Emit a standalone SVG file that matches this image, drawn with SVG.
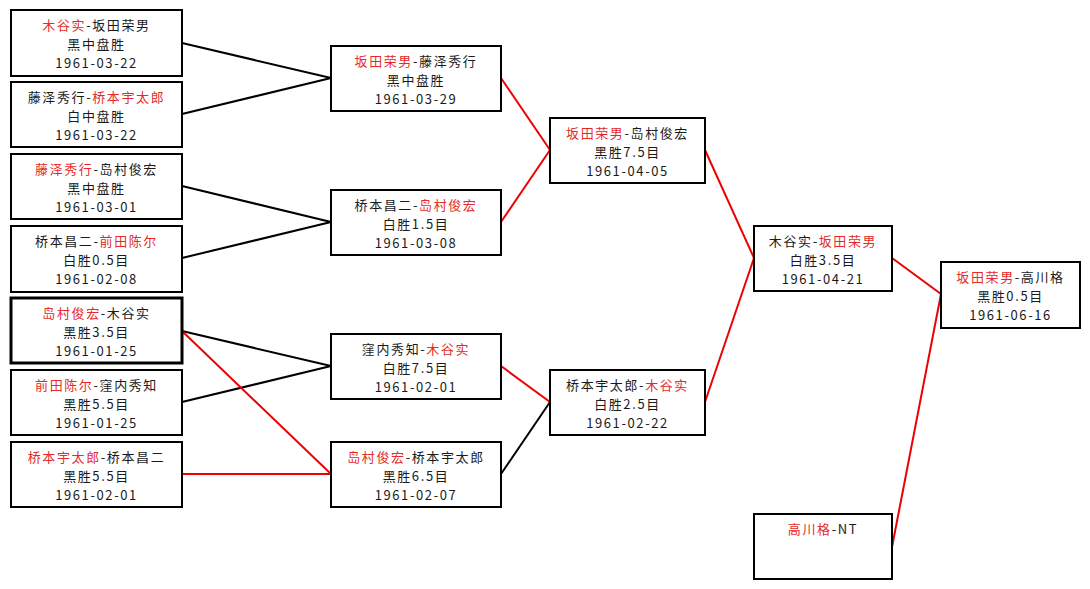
<svg xmlns="http://www.w3.org/2000/svg" width="1090" height="589" viewBox="0 0 1090 589">
<style>
.node rect{fill:#fff;stroke:#000;stroke-width:2}
.node.thick rect{stroke-width:3}
text{font-family:"Noto Sans CJK SC","Noto Sans CJK JP",sans-serif;font-size:13px;letter-spacing:1.6px;text-anchor:middle;fill:#1a1a1a}
.r{fill:#e52a2a}
.conn line{stroke-width:2;fill:none}
.conn .k{stroke:#000}
.conn .rd{stroke:#ee0000}
</style>
<rect width="1090" height="589" fill="#fff"/>
<g id="connectors" class="conn">
<line class="k" x1="182" y1="43" x2="331" y2="78"/>
<line class="k" x1="182" y1="114" x2="331" y2="78"/>
<line class="k" x1="182" y1="186" x2="331" y2="222"/>
<line class="k" x1="182" y1="258" x2="331" y2="222"/>
<line class="k" x1="182" y1="331" x2="331" y2="366"/>
<line class="k" x1="182" y1="402" x2="331" y2="366"/>
<line class="rd" x1="182" y1="331" x2="331" y2="474"/>
<line class="rd" x1="182" y1="474" x2="331" y2="474"/>
<line class="rd" x1="501" y1="78" x2="550" y2="150"/>
<line class="rd" x1="501" y1="222" x2="550" y2="150"/>
<line class="rd" x1="501" y1="366" x2="550" y2="402"/>
<line class="k" x1="501" y1="474" x2="550" y2="402"/>
<line class="rd" x1="705" y1="150" x2="754" y2="258"/>
<line class="rd" x1="705" y1="402" x2="754" y2="258"/>
<line class="rd" x1="892" y1="258" x2="941" y2="294"/>
<line class="rd" x1="892" y1="547" x2="941" y2="294"/>
</g>
<g id="n1" class="node"><rect x="11" y="10" width="171" height="66"/>
<text x="96.5" y="30"><tspan class="r">木谷实</tspan>-坂田荣男</text><text x="96.5" y="49">黑中盘胜</text><text x="96.5" y="68">1961-03-22</text></g>
<g id="n2" class="node"><rect x="11" y="82" width="171" height="65"/>
<text x="96.5" y="102">藤泽秀行-<tspan class="r">桥本宇太郎</tspan></text><text x="96.5" y="121">白中盘胜</text><text x="96.5" y="140">1961-03-22</text></g>
<g id="n3" class="node"><rect x="11" y="154" width="171" height="65"/>
<text x="96.5" y="174"><tspan class="r">藤泽秀行</tspan>-岛村俊宏</text><text x="96.5" y="193">黑中盘胜</text><text x="96.5" y="212">1961-03-01</text></g>
<g id="n4" class="node"><rect x="11" y="226" width="171" height="66"/>
<text x="96.5" y="246">桥本昌二-<tspan class="r">前田陈尔</tspan></text><text x="96.5" y="265">白胜0.5目</text><text x="96.5" y="284">1961-02-08</text></g>
<g id="n5" class="node thick"><rect x="11" y="298" width="171" height="65"/>
<text x="96.5" y="318"><tspan class="r">岛村俊宏</tspan>-木谷实</text><text x="96.5" y="337">黑胜3.5目</text><text x="96.5" y="356">1961-01-25</text></g>
<g id="n6" class="node"><rect x="11" y="370" width="171" height="65"/>
<text x="96.5" y="390"><tspan class="r">前田陈尔</tspan>-窪内秀知</text><text x="96.5" y="409">黑胜5.5目</text><text x="96.5" y="428">1961-01-25</text></g>
<g id="n7" class="node"><rect x="11" y="442" width="171" height="65"/>
<text x="96.5" y="462"><tspan class="r">桥本宇太郎</tspan>-桥本昌二</text><text x="96.5" y="481">黑胜5.5目</text><text x="96.5" y="500">1961-02-01</text></g>
<g id="n8" class="node"><rect x="331" y="46" width="170" height="65"/>
<text x="416" y="66"><tspan class="r">坂田荣男</tspan>-藤泽秀行</text><text x="416" y="85">黑中盘胜</text><text x="416" y="104">1961-03-29</text></g>
<g id="n9" class="node"><rect x="331" y="190" width="170" height="65"/>
<text x="416" y="210">桥本昌二-<tspan class="r">岛村俊宏</tspan></text><text x="416" y="229">白胜1.5目</text><text x="416" y="248">1961-03-08</text></g>
<g id="n10" class="node"><rect x="331" y="334" width="170" height="65"/>
<text x="416" y="354">窪内秀知-<tspan class="r">木谷实</tspan></text><text x="416" y="373">白胜7.5目</text><text x="416" y="392">1961-02-01</text></g>
<g id="n11" class="node"><rect x="331" y="442" width="170" height="65"/>
<text x="416" y="462"><tspan class="r">岛村俊宏</tspan>-桥本宇太郎</text><text x="416" y="481">黑胜6.5目</text><text x="416" y="500">1961-02-07</text></g>
<g id="n12" class="node"><rect x="550" y="118" width="155" height="65"/>
<text x="627.5" y="138"><tspan class="r">坂田荣男</tspan>-岛村俊宏</text><text x="627.5" y="157">黑胜7.5目</text><text x="627.5" y="176">1961-04-05</text></g>
<g id="n13" class="node"><rect x="550" y="370" width="155" height="65"/>
<text x="627.5" y="390">桥本宇太郎-<tspan class="r">木谷实</tspan></text><text x="627.5" y="409">白胜2.5目</text><text x="627.5" y="428">1961-02-22</text></g>
<g id="n14" class="node"><rect x="754" y="226" width="138" height="65"/>
<text x="823" y="246">木谷实-<tspan class="r">坂田荣男</tspan></text><text x="823" y="265">白胜3.5目</text><text x="823" y="284">1961-04-21</text></g>
<g id="n15" class="node"><rect x="754" y="514" width="138" height="65"/>
<text x="823" y="534"><tspan class="r">高川格</tspan>-NT</text></g>
<g id="n16" class="node"><rect x="941" y="262" width="139" height="66"/>
<text x="1010.5" y="282"><tspan class="r">坂田荣男</tspan>-高川格</text><text x="1010.5" y="301">黑胜0.5目</text><text x="1010.5" y="320">1961-06-16</text></g>
</svg>
